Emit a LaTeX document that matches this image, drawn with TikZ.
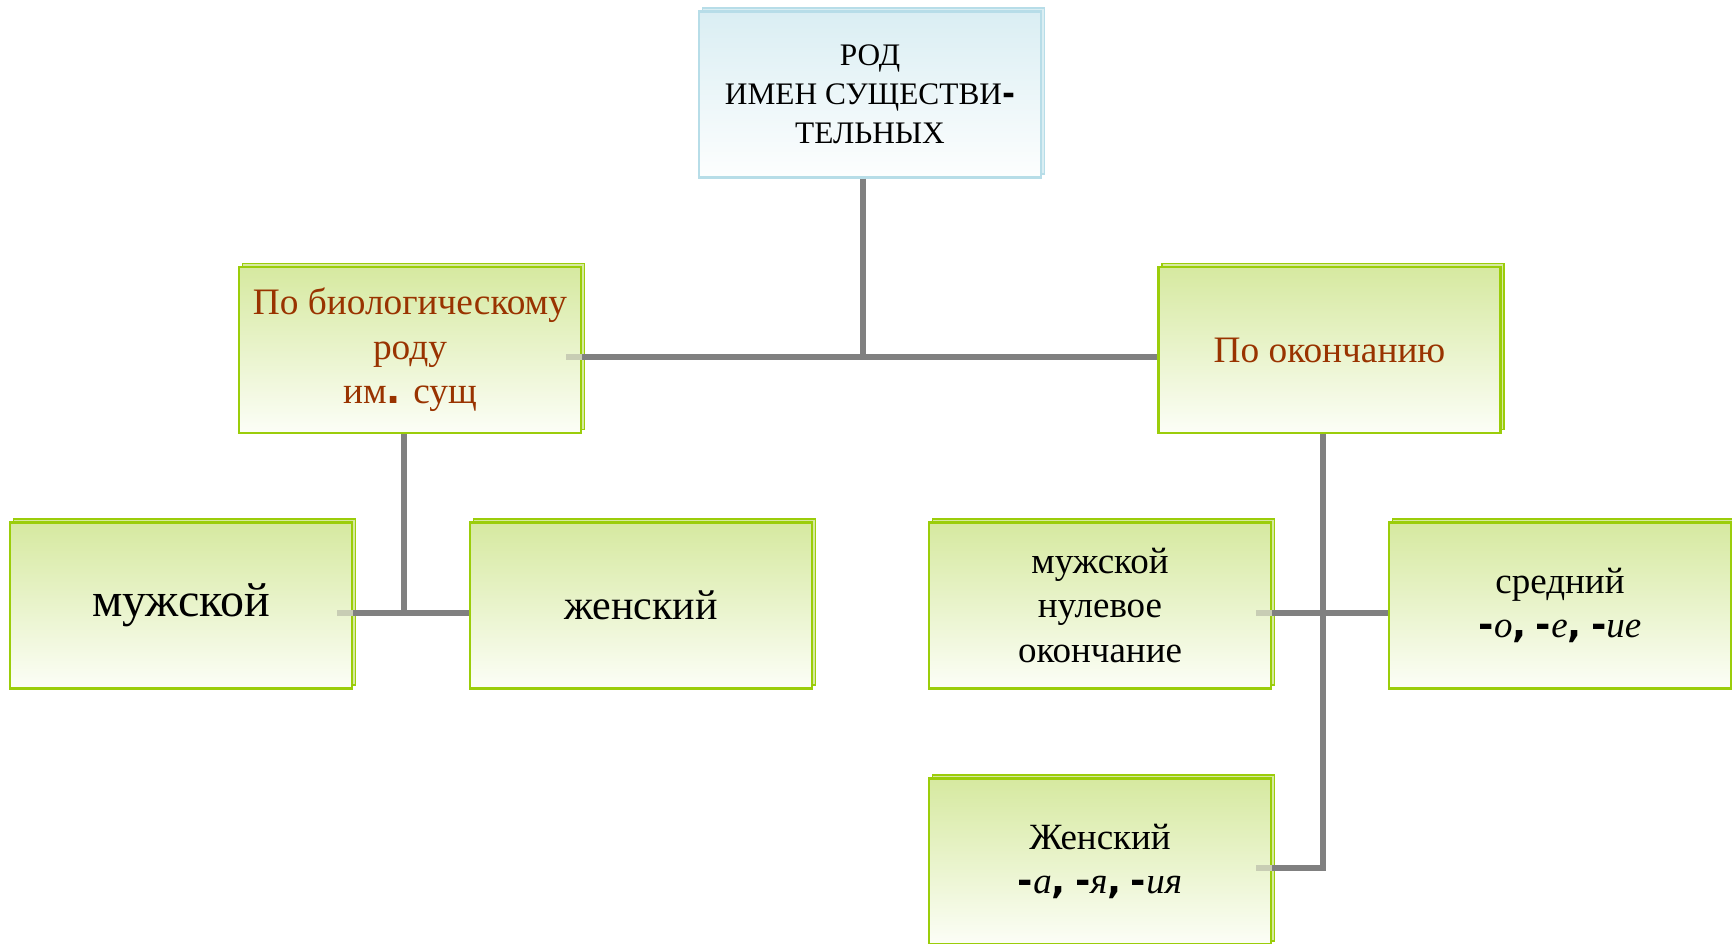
\documentclass[tikz,border=0pt]{standalone}
\usepackage{fontspec}
\setmainfont{Liberation Serif}
\newfontfamily\heavyfont{DejaVu Sans}
\newcommand{\heavymark}[1]{{\heavyfont\bfseries #1}}
\usetikzlibrary{shadows}

\definecolor{boxgreen}{RGB}{155,205,10}
\definecolor{boxtop}{RGB}{214,233,160}
\definecolor{boxbottom}{RGB}{252,254,247}
\definecolor{rootline}{RGB}{183,221,232}
\definecolor{roottop}{RGB}{218,238,243}
\definecolor{rootbottom}{RGB}{253,254,254}
\definecolor{headred}{RGB}{153,51,0}
\definecolor{linkgray}{RGB}{128,128,128}
\definecolor{stubgray}{RGB}{200,205,180}

\tikzset{every picture/.style={line width=0.75pt}}
\tikzset{
  box/.style={rectangle, inner sep=0pt, align=center, minimum width=256.5pt, minimum height=124.5pt, line width=1.8pt},
  greenbox/.style={box, draw=boxgreen, top color=boxtop, bottom color=boxbottom,
    copy shadow={shadow xshift=2.5pt, shadow yshift=2.5pt, fill=boxtop, draw=boxgreen, line width=1.2pt}},
  rootbox/.style={box, draw=rootline, top color=roottop, bottom color=rootbottom,
    copy shadow={shadow xshift=2.5pt, shadow yshift=2.5pt, fill=roottop, draw=rootline, line width=1.2pt}},
  link/.style={draw=linkgray, line width=4.5pt},
  stub/.style={draw=stubgray, line width=4.5pt},
}

\begin{document}
\begin{tikzpicture}[x=0.75pt,y=0.75pt,yscale=-1,xscale=1]
\useasboundingbox (0,0) rectangle (1732,943);

%Boxes
\node[rootbox, font=\fontsize{23.5}{29.3}\selectfont] (root) at (870,94.5) {РОД\\ИМЕН СУЩЕСТВИ\heavymark{-}\\ТЕЛЬНЫХ};
\node[greenbox, text=headred, font=\fontsize{28}{33.4}\selectfont] (bio) at (410,350) {По биологическому\\роду\\им\heavymark{.} сущ};
\node[greenbox, text=headred, font=\fontsize{28}{33.4}\selectfont] (ending) at (1329.5,350) {По окончанию};
\node[greenbox, font=\fontsize{36}{44}\selectfont] (masc) at (181,605.5) {мужской};
\node[greenbox, font=\fontsize{31.5}{40}\selectfont] (fem) at (641,605.5) {женский};
\node[greenbox, font=\fontsize{27.75}{33.4}\selectfont] (mascend) at (1100,605.5) {мужской\\нулевое\\окончание};
\node[greenbox, font=\fontsize{27.75}{33.4}\selectfont] (neutend) at (1560,605.5) {средний\\\heavymark{-}\textit{о}\heavymark{,} \heavymark{-}\textit{е}\heavymark{,} \heavymark{-}\textit{ие}};
\node[greenbox, font=\fontsize{27.75}{33.4}\selectfont] (femend) at (1100,861.5) {Женский\\\heavymark{-}\textit{а}\heavymark{,} \heavymark{-}\textit{я}\heavymark{,} \heavymark{-}\textit{ия}};

%Joints
\coordinate (topjoin) at (863,357);
\coordinate (leftjoin) at (404,613);
\coordinate (rightjoin) at (1323,868);

%Connectors
\draw[link] (root.south -| topjoin) -- (topjoin);
\draw[link] (bio.east |- topjoin) -- (ending.west |- topjoin);
\draw[stub] (bio.east |- topjoin) -- ++(-16,0);
\draw[link] (bio.south -| leftjoin) -- (leftjoin);
\draw[link] (masc.east |- leftjoin) -- (fem.west |- leftjoin);
\draw[stub] (masc.east |- leftjoin) -- ++(-16,0);
\draw[link] (ending.south -| rightjoin) -- (rightjoin) -- (femend.east |- rightjoin);
\draw[link] (mascend.east |- leftjoin) -- (neutend.west |- leftjoin);
\draw[stub] (mascend.east |- leftjoin) -- ++(-16,0);
\draw[stub] (femend.east |- rightjoin) -- ++(-16,0);

\end{tikzpicture}
\end{document}
